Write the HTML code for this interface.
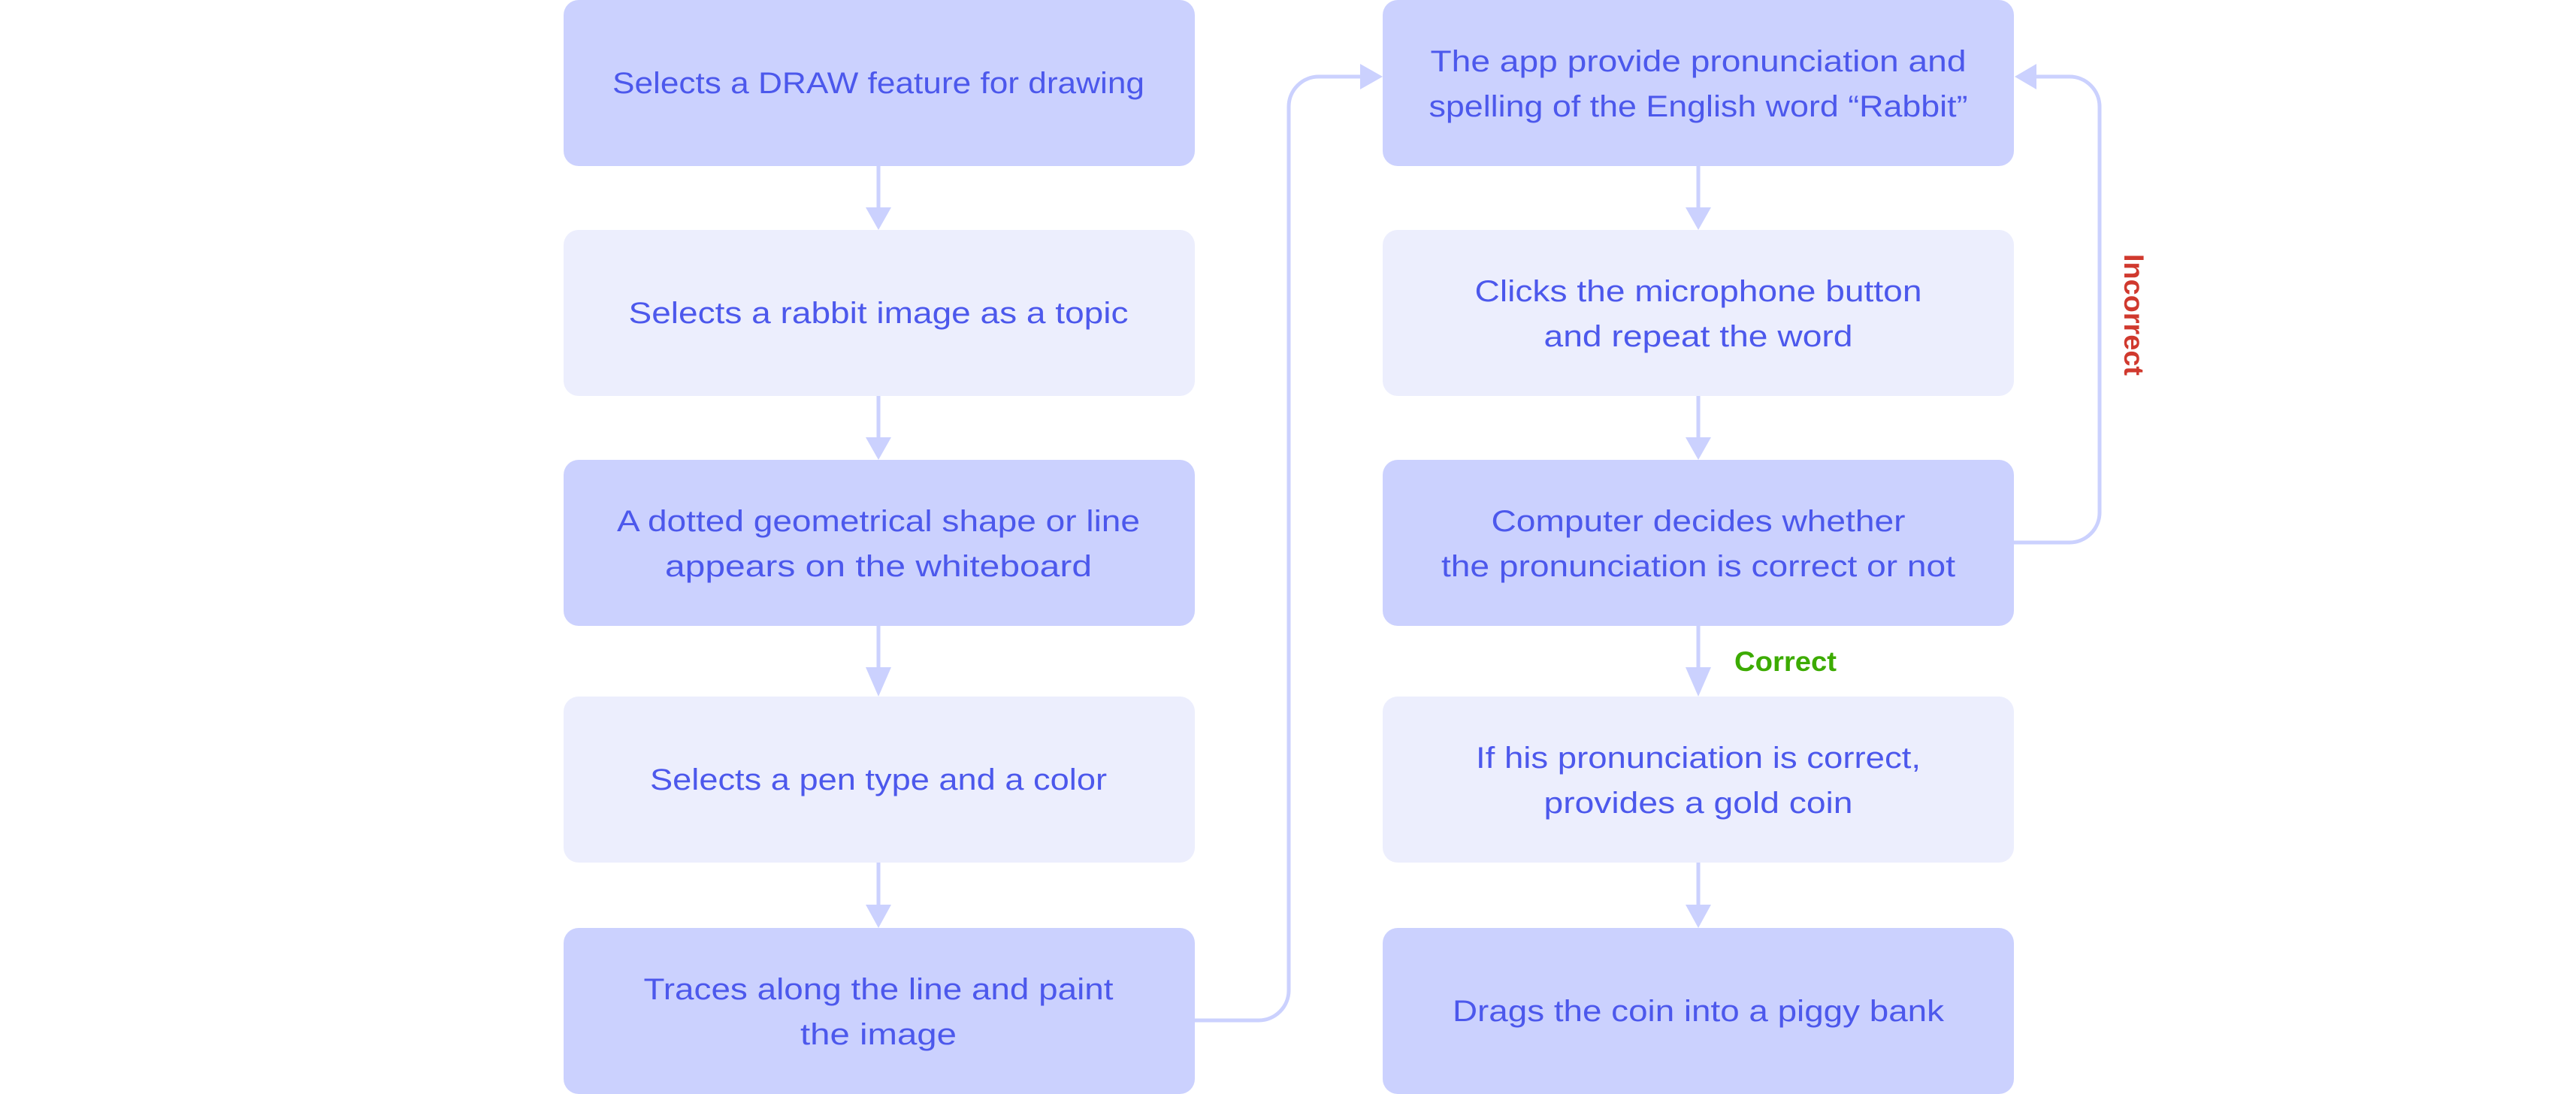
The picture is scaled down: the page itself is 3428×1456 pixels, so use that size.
<!DOCTYPE html>
<html><head><meta charset="utf-8"><style>
html,body{margin:0;padding:0;background:#fff;width:3428px;height:1456px;overflow:hidden}
svg text{font-family:"Liberation Sans",sans-serif}
</style></head><body>
<svg width="3428" height="1456" viewBox="0 0 3428 1456" xmlns="http://www.w3.org/2000/svg">
<g fill="none" stroke="#cbd1fe" stroke-width="5">
<line x1="1169" y1="221" x2="1169" y2="280"/>
<line x1="1169" y1="527" x2="1169" y2="586"/>
<line x1="1169" y1="833" x2="1169" y2="900"/>
<line x1="1169" y1="1148" x2="1169" y2="1208"/>
<line x1="2260" y1="221" x2="2260" y2="280"/>
<line x1="2260" y1="527" x2="2260" y2="586"/>
<line x1="2260" y1="833" x2="2260" y2="900"/>
<line x1="2260" y1="1148" x2="2260" y2="1208"/>
<path d="M1590 1358 H1675 A40 40 0 0 0 1715 1318 V142 A40 40 0 0 1 1755 102 H1815"/>
<path d="M2680 722 H2754 A40 40 0 0 0 2794 682 V142 A40 40 0 0 0 2754 102 H2705"/>
</g>
<g fill="#cbd1fe">
<polygon points="1152,276 1186,276 1169,306"/>
<polygon points="1152,582 1186,582 1169,612"/>
<polygon points="1152,888 1186,888 1169,927"/>
<polygon points="1152,1204 1186,1204 1169,1235"/>
<polygon points="2243,276 2277,276 2260,306"/>
<polygon points="2243,582 2277,582 2260,612"/>
<polygon points="2243,888 2277,888 2260,927"/>
<polygon points="2243,1204 2277,1204 2260,1235"/>
<polygon points="1810,85 1810,119 1840,102"/>
<polygon points="2710,85 2710,119 2681,102"/>
</g>
<rect x="750" y="0" width="840" height="221" rx="20" fill="#cbd1fe"/>
<rect x="750" y="306" width="840" height="221" rx="20" fill="#eceefd"/>
<rect x="750" y="612" width="840" height="221" rx="20" fill="#cbd1fe"/>
<rect x="750" y="927" width="840" height="221" rx="20" fill="#eceefd"/>
<rect x="750" y="1235" width="840" height="221" rx="20" fill="#cbd1fe"/>
<rect x="1840" y="0" width="840" height="221" rx="20" fill="#cbd1fe"/>
<rect x="1840" y="306" width="840" height="221" rx="20" fill="#eceefd"/>
<rect x="1840" y="612" width="840" height="221" rx="20" fill="#cbd1fe"/>
<rect x="1840" y="927" width="840" height="221" rx="20" fill="#eceefd"/>
<rect x="1840" y="1235" width="840" height="221" rx="20" fill="#cbd1fe"/>
<g fill="#4c58ec" font-size="40" text-anchor="middle" lengthAdjust="spacingAndGlyphs">
<text x="1169" y="124" textLength="708" lengthAdjust="spacingAndGlyphs">Selects a DRAW feature for drawing</text>
<text x="1169" y="430" textLength="665" lengthAdjust="spacingAndGlyphs">Selects a rabbit image as a topic</text>
<text x="1169" y="707" textLength="696" lengthAdjust="spacingAndGlyphs">A dotted geometrical shape or line</text>
<text x="1169" y="767" textLength="568" lengthAdjust="spacingAndGlyphs">appears on the whiteboard</text>
<text x="1169" y="1051" textLength="608" lengthAdjust="spacingAndGlyphs">Selects a pen type and a color</text>
<text x="1169" y="1330" textLength="625" lengthAdjust="spacingAndGlyphs">Traces along the line and paint</text>
<text x="1169" y="1390" textLength="208" lengthAdjust="spacingAndGlyphs">the image</text>
<text x="2260" y="95" textLength="713" lengthAdjust="spacingAndGlyphs">The app provide pronunciation and</text>
<text x="2260" y="155" textLength="717" lengthAdjust="spacingAndGlyphs">spelling of the English word “Rabbit”</text>
<text x="2260" y="401" textLength="595" lengthAdjust="spacingAndGlyphs">Clicks the microphone button</text>
<text x="2260" y="461" textLength="411" lengthAdjust="spacingAndGlyphs">and repeat the word</text>
<text x="2260" y="707" textLength="551" lengthAdjust="spacingAndGlyphs">Computer decides whether</text>
<text x="2260" y="767" textLength="684" lengthAdjust="spacingAndGlyphs">the pronunciation is correct or not</text>
<text x="2260" y="1022" textLength="592" lengthAdjust="spacingAndGlyphs">If his pronunciation is correct,</text>
<text x="2260" y="1082" textLength="411" lengthAdjust="spacingAndGlyphs">provides a gold coin</text>
<text x="2260" y="1359" textLength="654" lengthAdjust="spacingAndGlyphs">Drags the coin into a piggy bank</text>
</g>
<text x="2308" y="893" font-size="37" font-weight="bold" fill="#3cab00" textLength="136" lengthAdjust="spacingAndGlyphs">Correct</text>
<text x="0" y="0" font-size="37" font-weight="bold" fill="#d0392e" text-anchor="middle" textLength="162" lengthAdjust="spacingAndGlyphs" transform="translate(2827,419) rotate(90)">Incorrect</text>
</svg>
</body></html>
